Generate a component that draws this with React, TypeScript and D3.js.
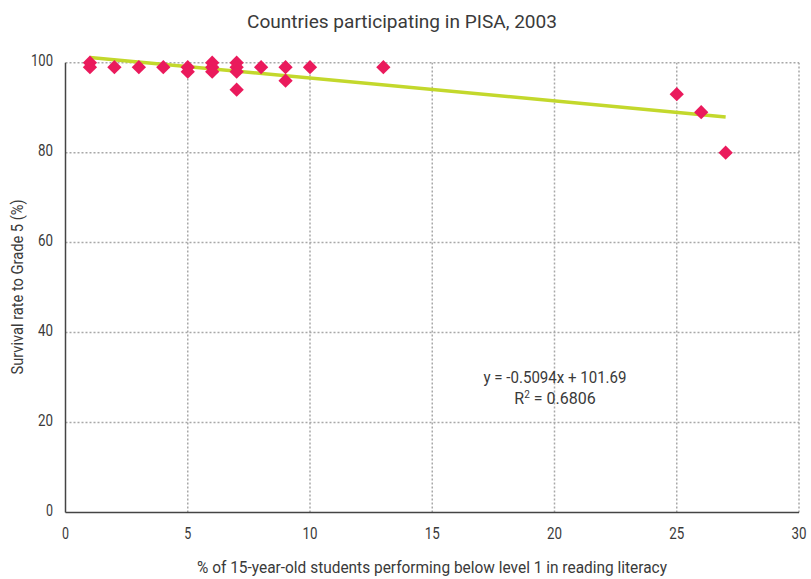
import React from "react";
import * as d3 from "d3";

const xs = [1, 1, 2, 3, 4, 5, 5, 6, 6, 6, 7, 7, 7, 7, 8, 9, 9, 10, 13, 25, 26, 27];
const ys = [100, 99, 99, 99, 99, 99, 98, 100, 99, 98, 100, 99, 98, 94, 99, 99, 96, 99, 99, 93, 89, 80];
const xTicks = [0, 5, 10, 15, 20, 25, 30];
const yTicks = [0, 20, 40, 60, 80, 100];
const slope = -0.5094;
const intercept = 101.69;
const fitRange = [1, 27];

const W = 811, H = 579;
const FONT = "Roboto, 'Liberation Sans', sans-serif";

export default function App() {
  const x = d3.scaleLinear().domain([0, 30]).range([65.5, 799]);
  const y = d3.scaleLinear().domain([0, 100]).range([512.5, 62.7]);
  const line = d3.line<number>().x((d) => x(d)).y((d) => y(slope * d + intercept));
  const diamond = d3.symbol().type(d3.symbolDiamond2).size(130)();
  const textFill = "#3a3a3a";
  return (
    <svg width={W} height={H} style={{ position: "absolute", left: 0, top: 0, background: "#fff" }} fontFamily={FONT}>
      <rect width={W} height={H} fill="#fff" />
      <text x={402} y={28} textAnchor="middle" fontSize={18} fill={textFill} textLength={310} lengthAdjust="spacingAndGlyphs">
        Countries participating in PISA, 2003
      </text>
      {/* grid */}
      {yTicks.filter((t) => t > 0).map((t) => (
        <line key={"gy" + t} x1={x(0)} x2={x(30)} y1={y(t)} y2={y(t)} stroke="#a8a8a8" strokeWidth={1.5} strokeDasharray="2,2" />
      ))}
      {xTicks.filter((t) => t > 0).map((t) => (
        <line key={"gx" + t} x1={x(t)} x2={x(t)} y1={y(0)} y2={y(100)} stroke="#a8a8a8" strokeWidth={1.5} strokeDasharray="2,2" />
      ))}
      {/* axes */}
      <line x1={x(0)} x2={x(0)} y1={y(0)} y2={y(100)} stroke="#444" strokeWidth={1.5} />
      <line x1={x(0)} x2={x(30)} y1={y(0)} y2={y(0)} stroke="#444" strokeWidth={1.5} />
      {yTicks.map((t) => (
        <text key={"ty" + t} x={53} y={y(t) + 3} textAnchor="end" fontSize={17} fill={textFill} textLength={t >= 100 ? 22 : t > 0 ? 15 : 7} lengthAdjust="spacingAndGlyphs">
          {t}
        </text>
      ))}
      {xTicks.map((t) => (
        <text key={"tx" + t} x={x(t)} y={539} textAnchor="middle" fontSize={17} fill={textFill} textLength={t >= 10 ? 15 : 7} lengthAdjust="spacingAndGlyphs">
          {t}
        </text>
      ))}
      <text x={432} y={573} textAnchor="middle" fontSize={16} fill={textFill} textLength={470} lengthAdjust="spacingAndGlyphs">
        % of 15-year-old students performing below level 1 in reading literacy
      </text>
      <text transform={`translate(23,287) rotate(-90)`} textAnchor="middle" fontSize={16} fill={textFill} textLength={175} lengthAdjust="spacingAndGlyphs">
        Survival rate to Grade 5 (%)
      </text>
      {/* fit line */}
      <path d={line(fitRange) || ""} stroke="#c3d82c" strokeWidth={3.5} fill="none" />
      {xs.map((v, i) => (
        <path key={"p" + i} d={diamond || ""} transform={`translate(${x(v)},${y(ys[i])})`} fill="#ea1a5c" />
      ))}
      <text x={555} y={383} textAnchor="middle" fontSize={16} fill={textFill} textLength={143} lengthAdjust="spacingAndGlyphs">
        y = -0.5094x + 101.69
      </text>
      <text x={555} y={404} textAnchor="middle" fontSize={16} fill={textFill}>
        <tspan>R</tspan>
        <tspan fontSize={10} dy={-6}>2</tspan>
        <tspan dy={6}> = 0.6806</tspan>
      </text>
    </svg>
  );
}
